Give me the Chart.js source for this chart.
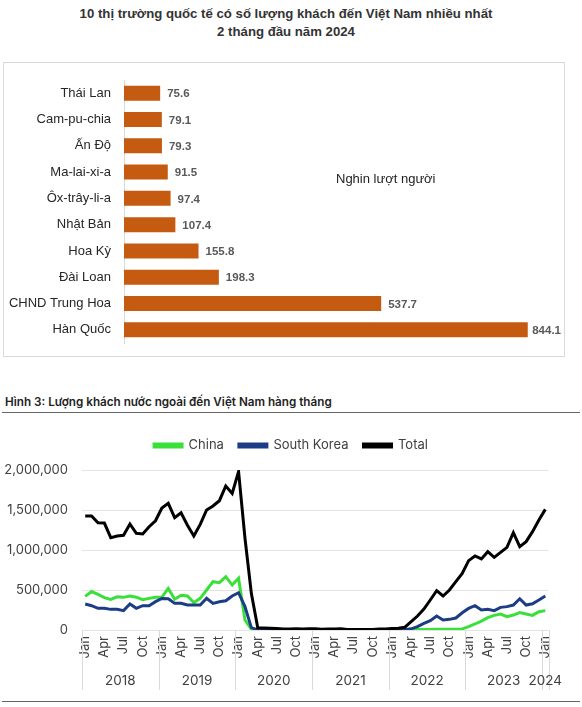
<!DOCTYPE html>
<html>
<head>
<meta charset="utf-8">
<script src="https://cdn.jsdelivr.net/npm/chart.js@4.4.0/dist/chart.umd.min.js"></script>
<style>
  body { margin:0; background:#fff; width:582px; height:707px; position:relative; overflow:hidden; font-family:"Liberation Sans", Arial, sans-serif; }
  #title1 { position:absolute; left:0; top:5px; width:572px; text-align:center; font-weight:bold; font-size:13.2px; line-height:18px; color:#333; }
  #boxTop { position:absolute; left:3px; top:62px; width:560px; height:293px; border:1px solid #d9d9d9; }
  #unit { position:absolute; left:336px; top:171px; font-size:13px; line-height:16px; color:#222; }
  #fig3 { position:absolute; left:5px; top:394px; font-family:Inter, sans-serif; font-weight:600; font-size:11.7px; line-height:16px; color:#222; }
  .rule { position:absolute; left:2px; width:578px; height:0; border-top:1.5px solid #666; }
  #lineBox { position:absolute; left:0; top:420px; }
</style>
</head>
<body>
<div id="title1">10 thị trường quốc tế có số lượng khách đến Việt Nam nhiều nhất<br>2 tháng đầu năm 2024</div>
<div id="boxTop"><canvas id="barChart" width="560" height="293"></canvas></div>
<div id="unit">Nghin lượt người</div>

<div id="fig3">Hình 3: Lượng khách nước ngoài đến Việt Nam hàng tháng</div>
<div class="rule" style="top:412px"></div>
<div id="lineBox"><canvas id="lineChart" width="582" height="287"></canvas></div>
<div class="rule" style="top:701px"></div>

<script>
// bieu do 1: top 10 thi truong (nghin luot)
const markets = ['Thái Lan', 'Cam-pu-chia', 'Ấn Độ', 'Ma-lai-xi-a', 'Ôx-trây-li-a', 'Nhật Bản', 'Hoa Kỳ', 'Đài Loan', 'CHND Trung Hoa', 'Hàn Quốc'];
const marketValues = [75.6, 79.1, 79.3, 91.5, 97.4, 107.4, 155.8, 198.3, 537.7, 844.1];

// bieu do 2: khach hang thang, Jan 2018 -> Jan 2024
const yearLabels = ['2018', '2019', '2020', '2021', '2022', '2023', '2024'];
const monthsPerYear = [12, 12, 12, 12, 12, 12, 1];
const monthNames = ['Jan', 'Feb', 'Mar', 'Apr', 'May', 'Jun', 'Jul', 'Aug', 'Sep', 'Oct', 'Nov', 'Dec'];

const chinaVisitors = [
  420000, 480000, 445000, 405000, 383000, 415000, 408000, 425000, 410000, 380000, 395000, 410000,
  410000, 520000, 385000, 435000, 425000, 342000, 396000, 500000, 604000, 592000, 667000, 562000,
  646000, 125000, 10000, 1000, 1000, 1000, 1000, 1000, 1000, 1000, 1000, 1000,
  1000, 1000, 1000, 1000, 1000, 1000, 1000, 1000, 1000, 1000, 1000, 1000,
  3000, 3000, 3000, 4000, 5000, 6000, 7000, 8000, 8000, 9000, 10000, 14000,
  42000, 75000, 112000, 154000, 183000, 200000, 167000, 187000, 217000, 200000, 183000, 229000,
  242000
];
const koreaVisitors = [
  325000, 304000, 271000, 271000, 258000, 258000, 242000, 325000, 271000, 304000, 304000, 354000,
  395000, 390000, 333000, 333000, 312000, 312000, 312000, 396000, 333000, 354000, 365000, 425000,
  466000, 292000, 30000, 2000, 1000, 1000, 1000, 1000, 1000, 1000, 1000, 1000,
  1000, 1000, 1000, 1000, 1000, 1000, 1000, 1000, 1000, 1000, 1000, 1000,
  2000, 2000, 3000, 15000, 42000, 83000, 117000, 175000, 125000, 133000, 150000, 215000,
  270000, 304000, 250000, 258000, 242000, 283000, 292000, 312000, 390000, 312000, 328000, 375000,
  425000
];
const totalVisitors = [
  1425000, 1425000, 1341000, 1337000, 1154000, 1175000, 1183000, 1325000, 1208000, 1200000, 1291000, 1366000,
  1525000, 1583000, 1404000, 1466000, 1310000, 1175000, 1320000, 1500000, 1550000, 1616000, 1800000, 1708000,
  1980000, 1150000, 458000, 27000, 26000, 22000, 18000, 14000, 13000, 17000, 13000, 17000,
  15000, 10000, 12000, 13000, 15000, 7000, 7000, 7000, 6000, 7000, 13000, 14000,
  20000, 22000, 33000, 104000, 175000, 262000, 375000, 492000, 425000, 500000, 604000, 708000,
  867000, 925000, 888000, 979000, 908000, 971000, 1033000, 1216000, 1042000, 1104000, 1229000, 1375000,
  1508000
];

// nhan thang cho truc x
let monthLabels = [];
monthsPerYear.forEach(n => {
  for (let m = 0; m < n; m++) monthLabels.push(monthNames[m]);
});

// so lieu canh thanh ngang
const barValueLabels = {
  id: 'barValueLabels',
  afterDatasetsDraw(chart) {
    const ctx = chart.ctx;
    const meta = chart.getDatasetMeta(0);
    ctx.save();
    ctx.font = 'bold 11.5px "Liberation Sans", Arial';
    ctx.fillStyle = '#595959';
    ctx.textBaseline = 'middle';
    meta.data.forEach((bar, i) => {
      const txt = marketValues[i].toFixed(1);
      const w = ctx.measureText(txt).width;
      let x = bar.x + 7;
      if (x + w > chart.width - 3) x = chart.width - 3 - w;
      ctx.fillText(txt, x, bar.y + 1);
    });
    ctx.restore();
  }
};

new Chart(document.getElementById('barChart'), {
  type: 'bar',
  data: {
    labels: markets,
    datasets: [{ data: marketValues, backgroundColor: '#C55A11', barPercentage: 0.57, categoryPercentage: 1 }]
  },
  options: {
    indexAxis: 'y',
    responsive: false,
    animation: false,
    layout: { padding: { top: 17, bottom: 13, right: 9.5, left: 0 } },
    plugins: { legend: { display: false }, tooltip: { enabled: false } },
    scales: {
      x: { display: false, min: 0, max: 900 },
      y: {
        // tickLength lam khoang cach nhan, khong ve vach
        grid: { display: false, drawTicks: true, tickLength: 13 },
        border: { display: true, color: '#d9d9d9' },
        ticks: { padding: 0, color: '#262626', font: { family: '"Liberation Sans", Arial', size: 13 } },
        afterFit(scale) { scale.width = 120; }
      }
    }
  },
  plugins: [barValueLabels]
});

// nam + vach ngan duoi truc x
const yearBands = {
  id: 'yearBands',
  afterDraw(chart) {
    const xs = chart.scales.x;
    const area = chart.chartArea;
    const ctx = chart.ctx;
    const step = xs.getPixelForValue(1) - xs.getPixelForValue(0);
    ctx.save();
    ctx.strokeStyle = '#d9d9d9';
    ctx.lineWidth = 1;
    ctx.font = '13.5px Inter';
    ctx.fillStyle = '#404040';
    ctx.textAlign = 'center';
    ctx.textBaseline = 'middle';
    let start = 0;
    yearLabels.forEach((yr, k) => {
      const n = monthsPerYear[k];
      const left = xs.getPixelForValue(start) - step / 2;
      const right = xs.getPixelForValue(start + n - 1) + step / 2;
      const lx = Math.round(left) + 0.5;
      ctx.beginPath();
      ctx.moveTo(lx, area.bottom);
      ctx.lineTo(lx, area.bottom + 60);
      ctx.stroke();
      if (k == yearLabels.length - 1) {
        const rx = Math.round(right) + 0.5;
        ctx.beginPath();
        ctx.moveTo(rx, area.bottom);
        ctx.lineTo(rx, area.bottom + 60);
        ctx.stroke();
      }
      ctx.fillText(yr, (left + right) / 2, area.bottom + 51);
      start += n;
    });
    ctx.restore();
  }
};

const tickFont = { family: 'Inter', size: 13 };

new Chart(document.getElementById('lineChart'), {
  type: 'line',
  data: {
    labels: monthLabels,
    datasets: [
      { label: 'China', data: chinaVisitors, borderColor: '#3ae03a', backgroundColor: '#3ae03a', order: 2 },
      { label: 'South Korea', data: koreaVisitors, borderColor: '#1d3c86', backgroundColor: '#1d3c86', order: 1 },
      { label: 'Total', data: totalVisitors, borderColor: '#000000', backgroundColor: '#000000', order: 0 }
    ]
  },
  options: {
    responsive: false,
    animation: false,
    elements: { line: { borderWidth: 3, tension: 0 }, point: { radius: 0 } },
    layout: { padding: { top: 4, right: 0, left: 0, bottom: 0 } },
    plugins: {
      legend: {
        labels: {
          boxWidth: 28, boxHeight: 3, padding: 15, color: '#404040', font: tickFont,
          sort: (a, b) => a.datasetIndex - b.datasetIndex
        }
      },
      // khoang trong giua chu giai va vung ve
      title: { display: true, text: '', weight: 500, font: { size: 1, lineHeight: 1 }, padding: { top: 0, bottom: 7 } },
      tooltip: { enabled: false }
    },
    scales: {
      x: {
        offset: true,
        grid: { display: false, drawTicks: false },
        border: { display: false },
        ticks: {
          autoSkip: false, minRotation: 90, maxRotation: 90, padding: 6,
          color: '#404040', font: tickFont,
          callback(v, i) { return i % 3 === 0 ? monthLabels[i] : ''; }
        },
        afterFit(scale) { scale.height = 77; }
      },
      y: {
        min: 0, max: 2000000,
        grid: { color: '#e3e3e3', drawTicks: false },
        border: { display: false },
        ticks: {
          stepSize: 500000, padding: 14, color: '#404040', font: tickFont,
          callback(v) { return v.toLocaleString('en-US'); }
        },
        afterFit(scale) { scale.width = 82; }
      },
      // truc rong ben phai, chi giu le phai
      yRight: {
        position: 'right',
        grid: { display: false, drawTicks: false },
        border: { display: false },
        ticks: { display: false },
        afterFit(scale) { scale.width = 33.5; }
      }
    }
  },
  plugins: [yearBands]
});
</script>
</body>
</html>
